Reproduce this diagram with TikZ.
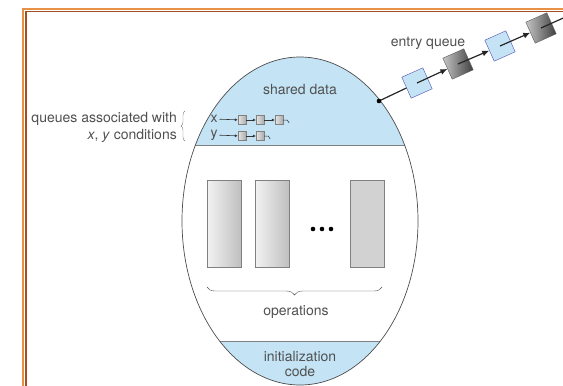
\documentclass[tikz,border=0pt]{standalone}
\usepackage{fontspec}
\setmainfont{TeX Gyre Heros}
\usetikzlibrary{arrows.meta,decorations.pathreplacing}
\definecolor{qblue}{RGB}{196,228,246}
\definecolor{txtgray}{RGB}{80,80,80}
\definecolor{frameorange}{RGB}{230,145,70}
\definecolor{framebrown}{RGB}{160,80,30}

\begin{document}
\begin{tikzpicture}[x=1pt,y=-1pt,
    lbl/.style={font=\fontsize{14}{15}\selectfont, text=txtgray, inner sep=0pt},
    opbox/.style={draw=gray, left color=gray!10, right color=gray!50,
        minimum width=34pt, minimum height=87pt, inner sep=0pt},
    qbox/.style={draw=gray!60!blue, fill=qblue, minimum size=23pt,
        inner sep=0pt, rotate=24},
    pbox/.style={draw=gray!70!black, left color=gray!45, right color=black!75,
        minimum size=23pt, inner sep=0pt, rotate=24},
    tinybox/.style={draw=gray, left color=gray!20, right color=gray!65,
        minimum width=8pt, minimum height=9pt, inner sep=0pt},
    link/.style={-{Latex[length=7pt,width=6pt]}, line width=1.2pt, black!85},
    tinylink/.style={-{Latex[length=3pt,width=3pt]}, line width=0.6pt, gray!40!black}]
    \useasboundingbox (0,0) rectangle (563,386);

    % Frame
    \draw[frameorange, line width=2pt] (23,395) -- (23,8.5) -- (570,8.5);
    \draw[framebrown, line width=1.1pt] (26,395) -- (26,11.5) -- (570,11.5);

    % Monitor (shared data and init code parts)
    \begin{scope}
        \clip (300,221) ellipse [x radius=118, y radius=164];
        \fill[qblue] (150,40) rectangle (450,145);
        \fill[qblue] (150,341) rectangle (450,400);
        \draw[gray] (150,145) -- (450,145);
        \draw[gray] (150,341) -- (450,341);
    \end{scope}
    \draw[gray!60!black, line width=0.7pt] (300,221) ellipse [x radius=118, y radius=164];

    % Labels
    \node[lbl] (shared) at (300,89) {shared data};
    \node[lbl] (ops) at (296,312) {operations};
    \node[lbl, align=center] (init) at (300,364) {initialization\\code};
    \node[lbl] (entry) at (428,43) {entry queue};
    \node[lbl, anchor=east] (qtext1) at (177,119) {queues associated with};
    \node[lbl, anchor=east] (qtext2) at (177,136) {\textit{x}, \textit{y} conditions};

    % Condition queues
    \node[lbl, outer sep=2pt] (xlab) at (214,119) {x};
    \node[lbl, outer sep=2pt] (ylab) at (214,135) {y};
    \node[tinybox] (x1) at (242,120) {};
    \node[tinybox] (x2) at (260,120) {};
    \node[tinybox] (x3) at (279,120) {};
    \node[tinybox] (y1) at (242,136) {};
    \node[tinybox] (y2) at (260,136) {};
    \draw[tinylink] (xlab) -- (x1);
    \draw[tinylink] (x1) -- (x2);
    \draw[tinylink] (x2) -- (x3);
    \draw[tinylink] (ylab) -- (y1);
    \draw[tinylink] (y1) -- (y2);
    \draw[gray!40!black, line width=0.5pt] (x3.east) -- ++(4,0) -- ++(2,3);
    \draw[gray!40!black, line width=0.5pt] (y2.east) -- ++(4,0) -- ++(2,3);
    \draw[gray, decorate, decoration={brace, amplitude=4pt}] (185,141) -- (185,111);

    % Operations
    \node[opbox] (op1) at (224,223.5) {};
    \node[opbox] (op2) at (272,223.5) {};
    \node[opbox, left color=gray!35, right color=gray!35] (opn) at (367,223.5) {};
    \fill (313,229) circle (2.3) (322,229) circle (2.3) (331,229) circle (2.3);
    \draw[gray!60!black, decorate, decoration={brace, amplitude=8pt}] (382,287) -- (207,287);

    % Entry queue
    \coordinate (door) at (379,101);
    \coordinate (tail) at (570,15);
    \node[qbox] (q1) at (417,83) {};
    \node[pbox] (q2) at (458,64) {};
    \node[qbox] (q3) at (500,46) {};
    \node[pbox] (q4) at (541,28) {};
    \draw[line width=1.2pt, black!85] (door) -- (q1);
    \draw[link] (q1.center) -- (q2);
    \draw[link] (q2.center) -- (q3);
    \draw[link] (q3.center) -- (q4);
    \draw[line width=1.2pt, black!85] (q4.center) -- (tail);
    \fill (door) circle (2.3);
\end{tikzpicture}
\end{document}
